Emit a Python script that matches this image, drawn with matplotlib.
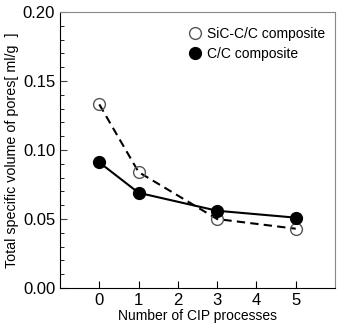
import matplotlib.pyplot as plt
from matplotlib.ticker import MultipleLocator

plt.rcParams['font.family'] = ['Liberation Sans', 'DejaVu Sans']

cip = [0, 1, 3, 5]
sic_cc = [0.133, 0.084, 0.050, 0.043]
cc = [0.091, 0.069, 0.056, 0.051]

fig = plt.figure(figsize=(3.45, 3.3), dpi=100)
ax = fig.add_axes([0.174, 0.127, 0.797, 0.837])

ax.plot(cip, sic_cc, color='black', ls=(0, (4, 2.5)), lw=1.5,
        marker='o', ms=8.5, mfc='none', mec='#555555', mew=1.0,
        label='SiC-C/C composite')
ax.plot(cip, cc, color='black', lw=1.5, marker='o', ms=8.5,
        label='C/C composite')

ax.set_xlim(-1, 6)
ax.set_ylim(0, 0.2)
ax.set_xticks([0, 1, 2, 3, 4, 5])
ax.yaxis.set_major_locator(MultipleLocator(0.05))
ax.yaxis.set_minor_locator(MultipleLocator(0.01))
ax.yaxis.set_major_formatter(plt.FormatStrFormatter('%.2f'))
ax.tick_params(direction='in', labelsize=12, length=5, width=0.8)
ax.tick_params(which='minor', direction='in', length=3, width=0.6)
ax.tick_params(axis='y', colors='#444444', labelcolor='black')

for side in ['top', 'right']:
    ax.spines[side].set_color('#888888')
    ax.spines[side].set_linewidth(0.8)

ax.set_xlabel('Number of CIP processes', fontsize=10, labelpad=1)
ax.set_ylabel('Total specific volume of pores[ ml/g  ]', fontsize=10.3, labelpad=3)

ax.legend(loc='upper right', bbox_to_anchor=(1.0, 0.982), frameon=False,
          fontsize=10, handlelength=0, handletextpad=0.9, borderaxespad=0.3,
          labelspacing=0.45)

fig.savefig('out.png', dpi=100)
